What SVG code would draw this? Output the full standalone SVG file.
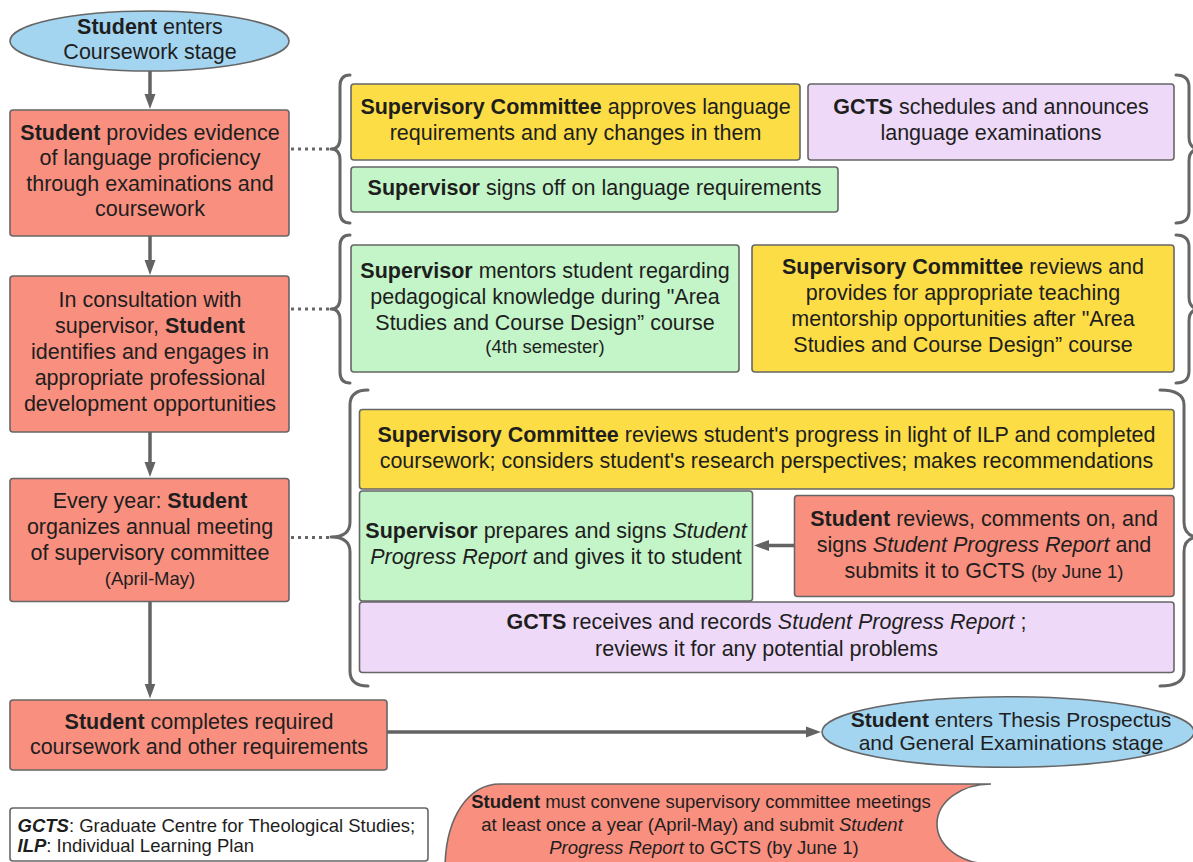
<svg xmlns="http://www.w3.org/2000/svg" width="1193" height="862" viewBox="0 0 1193 862">
<style>
text { font-family: "Liberation Sans", Arial, Helvetica, sans-serif; font-size: 21.5px; fill: #1e1e1e; text-anchor: middle; }
.s { font-size: 18.5px; }
.b { font-weight: bold; }
.i { font-style: italic; }
.l { text-anchor: start; }
.box { stroke: #666666; stroke-width: 1.6; }
.red { fill: #f98f7f; }
.yel { fill: #fcdd45; }
.grn { fill: #c3f5c8; }
.pur { fill: #eed9f8; }
.blu { fill: #a3d4f0; }
.wht { fill: #ffffff; }
.conn { stroke: #636363; stroke-width: 3.5; fill: none; }
.dot { stroke: #666666; stroke-width: 3; stroke-dasharray: 3 4; fill: none; }
.brace { stroke: #666666; stroke-width: 3; fill: none; stroke-linecap: round; stroke-linejoin: round; }
</style>
<defs>
<marker id="ah" markerUnits="userSpaceOnUse" markerWidth="16" markerHeight="12" viewBox="0 0 16 12" refX="7" refY="6" orient="auto">
<path d="M0,0.5 L15,6 L0,11.5 Z" fill="#636363"/>
</marker>
</defs>
<rect width="1193" height="862" fill="#ffffff"/>

<g id="connectors">
<line class="conn" x1="150" y1="71" x2="150" y2="101" marker-end="url(#ah)"/>
<line class="conn" x1="150" y1="236" x2="150" y2="267" marker-end="url(#ah)"/>
<line class="conn" x1="150" y1="432" x2="150" y2="469" marker-end="url(#ah)"/>
<line class="conn" x1="150" y1="601.5" x2="150" y2="690.5" marker-end="url(#ah)"/>
<line class="conn" x1="387" y1="732" x2="813" y2="732" marker-end="url(#ah)"/>
<line class="conn" x1="794.5" y1="545.5" x2="762" y2="545.5" marker-end="url(#ah)"/>
<line class="dot" x1="291" y1="149" x2="330" y2="149"/>
<line class="dot" x1="291" y1="309" x2="330" y2="309"/>
<line class="dot" x1="291" y1="537.5" x2="330" y2="537.5"/>
<path class="brace" d="M350,75 Q340,75 340,86 L340,138 Q340,149 331,149 Q340,149 340,160 L340,212 Q340,223 350,223"/>
<path class="brace" d="M350,235 Q340,235 340,246 L340,298 Q340,309 331,309 Q340,309 340,320 L340,372 Q340,383 350,383"/>
<path class="brace" d="M368,390 Q350,390 350,405 L350,522 Q350,537 331,537 Q350,537 350,552 L350,671 Q350,686 368,686"/>
<path class="brace" d="M1176,75 Q1189,75 1189,87 L1189,137 Q1189,149 1200,149 Q1189,149 1189,161 L1189,211 Q1189,223 1176,223"/>
<path class="brace" d="M1176,235 Q1189,235 1189,247 L1189,297 Q1189,309 1200,309 Q1189,309 1189,321 L1189,371 Q1189,383 1176,383"/>
<path class="brace" d="M1160,390 Q1184,390 1184,405 L1184,522 Q1184,537 1200,537 Q1184,537 1184,552 L1184,671 Q1184,686 1160,686"/>
</g>

<g id="start">
<ellipse class="box blu" cx="149.5" cy="41" rx="139.5" ry="30"/>
<text x="150" y="33.5"><tspan class="b">Student</tspan> enters</text>
<text x="150" y="59">Coursework stage</text>
</g>

<g id="language-evidence">
<rect class="box red" x="10" y="110" width="279" height="126" rx="3"/>
<text x="150" y="139.5"><tspan class="b">Student</tspan> provides evidence</text>
<text x="150" y="165">of language proficiency</text>
<text x="150" y="190.5">through examinations and</text>
<text x="150" y="216">coursework</text>
</g>

<g id="committee-approves">
<rect class="box yel" x="351" y="84" width="449" height="76" rx="3"/>
<text x="575.5" y="114"><tspan class="b">Supervisory Committee</tspan> approves language</text>
<text x="575.5" y="140">requirements and any changes in them</text>
</g>

<g id="gcts-schedules">
<rect class="box pur" x="808" y="84" width="366" height="76" rx="3"/>
<text x="991" y="114"><tspan class="b">GCTS</tspan> schedules and announces</text>
<text x="991" y="140">language examinations</text>
</g>

<g id="supervisor-signs-off">
<rect class="box grn" x="351" y="167" width="487" height="45" rx="3"/>
<text x="594.5" y="195"><tspan class="b">Supervisor</tspan> signs off on language requirements</text>
</g>

<g id="professional-development">
<rect class="box red" x="10" y="276" width="279" height="156" rx="3"/>
<text x="150" y="306.5">In consultation with</text>
<text x="150" y="332.5">supervisor, <tspan class="b">Student</tspan></text>
<text x="150" y="358.5">identifies and engages in</text>
<text x="150" y="384.5">appropriate professional</text>
<text x="150" y="410.5">development opportunities</text>
</g>

<g id="supervisor-mentors">
<rect class="box grn" x="351" y="245" width="388" height="127" rx="3"/>
<text x="545" y="277.5"><tspan class="b">Supervisor</tspan> mentors student regarding</text>
<text x="545" y="303.5">pedagogical knowledge during "Area</text>
<text x="545" y="329.5">Studies and Course Design” course</text>
<text class="s" x="545" y="352.5">(4th semester)</text>
</g>

<g id="committee-mentorship">
<rect class="box yel" x="752" y="245" width="422" height="127" rx="3"/>
<text x="963" y="274"><tspan class="b">Supervisory Committee</tspan> reviews and</text>
<text x="963" y="300">provides for appropriate teaching</text>
<text x="963" y="326">mentorship opportunities after "Area</text>
<text x="963" y="352">Studies and Course Design” course</text>
</g>

<g id="annual-meeting">
<rect class="box red" x="10" y="478.5" width="279" height="123" rx="3"/>
<text x="150" y="507.5">Every year: <tspan class="b">Student</tspan></text>
<text x="150" y="534">organizes annual meeting</text>
<text x="150" y="560">of supervisory committee</text>
<text class="s" x="150" y="584.5">(April-May)</text>
</g>

<g id="committee-reviews">
<rect class="box yel" x="359.5" y="409.5" width="814.5" height="79.5" rx="3"/>
<text x="766.5" y="442"><tspan class="b">Supervisory Committee</tspan> reviews student's progress in light of ILP and completed</text>
<text x="766.5" y="468">coursework; considers student's research perspectives; makes recommendations</text>
</g>

<g id="supervisor-prepares">
<rect class="box grn" x="359.5" y="491" width="393" height="110" rx="3"/>
<text x="556" y="537.5"><tspan class="b">Supervisor</tspan> prepares and signs <tspan class="i">Student</tspan></text>
<text x="556" y="564"><tspan class="i">Progress Report</tspan> and gives it to student</text>
</g>

<g id="student-reviews">
<rect class="box red" x="794.5" y="495.5" width="379.5" height="101" rx="3"/>
<text x="984" y="525.8"><tspan class="b">Student</tspan> reviews, comments on, and</text>
<text x="984" y="551.8">signs <tspan class="i">Student Progress Report</tspan> and</text>
<text x="984" y="578">submits it to GCTS <tspan class="s">(by June 1)</tspan></text>
</g>

<g id="gcts-records">
<rect class="box pur" x="359.5" y="602" width="814.5" height="70.5" rx="3"/>
<text x="766.5" y="628.5"><tspan class="b">GCTS</tspan> receives and records <tspan class="i">Student Progress Report</tspan> ;</text>
<text x="766.5" y="656">reviews it for any potential problems</text>
</g>

<g id="completes-coursework">
<rect class="box red" x="10" y="700" width="377" height="70" rx="3"/>
<text x="199" y="729"><tspan class="b">Student</tspan> completes required</text>
<text x="199" y="754">coursework and other requirements</text>
</g>

<g id="end">
<ellipse class="box blu" cx="1008" cy="732" rx="186" ry="35.3"/>
<text x="1011" y="727" style="font-size:21px"><tspan class="b">Student</tspan> enters Thesis Prospectus</text>
<text x="1011" y="750" style="font-size:21px">and General Examinations stage</text>
</g>

<g id="legend">
<rect class="box wht" x="10" y="808" width="418" height="53" rx="3"/>
<text class="s l" x="17.5" y="832"><tspan class="b i">GCTS</tspan>: Graduate Centre for Theological Studies;</text>
<text class="s l" x="17.5" y="851.5"><tspan class="b i">ILP</tspan>: Individual Learning Plan</text>
</g>

<g id="reminder">
<path class="box red" d="M500,784 L991,784 A54,40 0 0 0 991,864 L991,870 L445,870 C445,815 470,784 500,784 Z"/>
<text class="s" x="701" y="808"><tspan class="b">Student</tspan> must convene supervisory committee meetings</text>
<text class="s" x="692" y="831">at least once a year (April-May) and submit <tspan class="i">Student</tspan></text>
<text class="s" x="704" y="854"><tspan class="i">Progress Report</tspan> to GCTS (by June 1)</text>
</g>
</svg>
